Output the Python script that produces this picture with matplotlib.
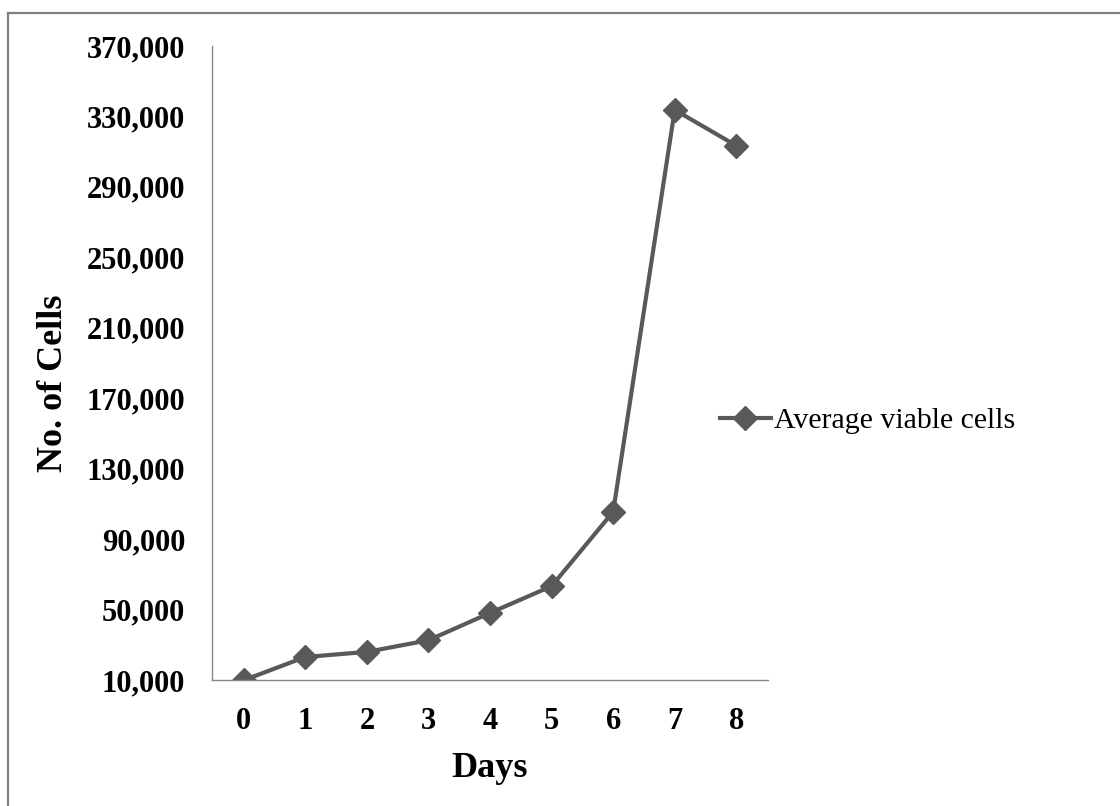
import numpy as np
import matplotlib.pyplot as plt
from matplotlib.lines import Line2D

# Average viable cell counts per day
days = [0, 1, 2, 3, 4, 5, 6, 7, 8]
cells = [10000, 23200, 26100, 32700, 48200, 63400, 105600, 333700, 313400]
y_ticks = [10000, 50000, 90000, 130000, 170000, 210000, 250000, 290000, 330000, 370000]

line_col = '#595959'
axis_col = '#868686'

fig = plt.figure(figsize=(11.2, 8.06), dpi=100)
ax = fig.add_axes([0.189, 0.156, 0.497, 0.787])

ax.plot(days, cells, color=line_col, linewidth=3, marker='D', markersize=12,
        markeredgecolor=line_col, markerfacecolor=line_col, label='Average viable cells')

ax.set_xlim(-0.52, 8.52)
ax.set_ylim(10000, 370000)
ax.set_xticks(days)
ax.set_yticks(y_ticks)
ax.set_yticklabels(['{:,}'.format(v) for v in y_ticks])
ax.tick_params(axis='y', length=0, pad=19)
ax.tick_params(axis='x', length=0, pad=19)
for lab in ax.get_xticklabels() + ax.get_yticklabels():
    lab.set_fontfamily('Liberation Serif')
    lab.set_fontweight('bold')
    lab.set_fontsize(22)

ax.spines['top'].set_visible(False)
ax.spines['right'].set_visible(False)
for s in ['left', 'bottom']:
    ax.spines[s].set_color(axis_col)
    ax.spines[s].set_linewidth(1)

ax.set_xlabel('Days', fontfamily='Liberation Serif', fontweight='bold', fontsize=26, labelpad=12)
ax.set_ylabel('No. of Cells', fontfamily='Liberation Serif', fontweight='bold', fontsize=26)
ax.yaxis.set_label_coords(-0.255, 0.468)

fig.legend(loc='center left', bbox_to_anchor=(720/1120, 1 - 421/806), frameon=False,
           prop={'family': 'Liberation Serif', 'size': 21.5},
           handlelength=1.7, handletextpad=0.12, borderpad=0, borderaxespad=0)

# outer frame (only top and left edges fall inside the image)
fig.add_artist(Line2D([8/1120, 1.0], [1 - 13/806, 1 - 13/806], transform=fig.transFigure,
                      color='#808080', linewidth=1.6))
fig.add_artist(Line2D([8/1120, 8/1120], [0.0, 1 - 13/806], transform=fig.transFigure,
                      color='#808080', linewidth=1.6))

plt.savefig('out.png', dpi=100)
